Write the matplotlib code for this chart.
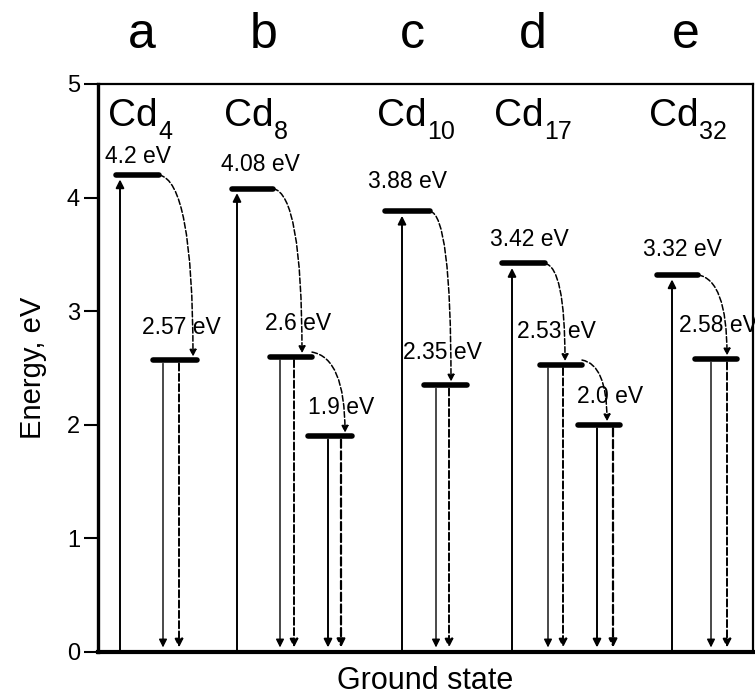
import matplotlib
matplotlib.use("Agg")
import matplotlib.pyplot as plt

plt.rcParams['font.family'] = ['Liberation Sans', 'DejaVu Sans']

# ---- data ----
panel_letters = ['a', 'b', 'c', 'd', 'e']
clusters = ['4', '8', '10', '17', '32']
upper_levels = [4.2, 4.08, 3.88, 3.42, 3.32]
middle_levels = [2.57, 2.6, 2.35, 2.53, 2.58]
lower_levels = [None, 1.9, None, 2.0, None]
upper_labels = ['4.2 eV', '4.08 eV', '3.88 eV', '3.42 eV', '3.32 eV']
middle_labels = ['2.57 eV', '2.6 eV', '2.35 eV', '2.53 eV', '2.58 eV']
lower_labels = [None, '1.9 eV', None, '2.0 eV', None]
yticks = [0, 1, 2, 3, 4, 5]

# ---- layout (x in pixel-like units from the left spine) ----
col_x = [0, 116, 269, 392, 537]          # shift of each column
up_x = [22, 23, 35, 22, 37]              # excitation arrow
upper_span = [(18, 61), (18, 59), (18, 63), (12, 55), (22, 63)]
middle_span = [(55, 99), (56, 98), (57, 100), (50, 92), (60, 102)]
lower_span = [None, (94, 138), None, (88, 130), None]
mid_down = [(65, 81), (66, 80), (69, 82), (58, 73), (76, 92)]
low_down = [None, (114, 127), None, (107, 123), None]
mid_arrow_x = [95, 88, 84, 75, 92]
low_arrow_x = [None, 131, None, 117, None]
upper_lab_x = [40, 46, 41, 39, 47]
middle_lab_x = [83, 84, 75, 66, 83]
lower_lab_x = [None, 127, None, 120, None]
label_dy = [0.16, 0.21, 0.26, 0.21, 0.22]

fig = plt.figure(figsize=(7.55, 6.99), dpi=100)
ax = fig.add_axes([98 / 755, 47 / 699, 655 / 755, 568 / 699])
ax.set_xlim(0, 655)
ax.set_ylim(0, 5)

def arrow(x0, y0, x1, y1, ls='-', lw=1.0, conn='arc3,rad=0', ms=12):
    ax.annotate('', xy=(x1, y1), xytext=(x0, y0),
                arrowprops=dict(arrowstyle='-|>', color='k', lw=lw, ls=ls,
                                shrinkA=0, shrinkB=0, mutation_scale=ms,
                                connectionstyle=conn))

def level(span, cx, e):
    ax.plot([cx + span[0], cx + span[1]], [e, e], color='k', lw=4,
            solid_capstyle='round')

curve = 'angle3,angleA=-10,angleB=90'

for i in range(5):
    cx = col_x[i]
    eu, em, el = upper_levels[i], middle_levels[i], lower_levels[i]
    # excitation from ground state
    arrow(cx + up_x[i], 0, cx + up_x[i], eu - 0.04, lw=1.4)
    level(upper_span[i], cx, eu)
    level(middle_span[i], cx, em)
    ax.text(cx + upper_lab_x[i], eu + label_dy[i], upper_labels[i],
            ha='center', va='center', fontsize=16.5)
    ax.text(cx + middle_lab_x[i], em + 0.29, middle_labels[i],
            ha='center', va='center', fontsize=16.5, clip_on=False)
    # relaxation upper -> middle
    arrow(cx + upper_span[i][1], eu, cx + mid_arrow_x[i], em + 0.03,
          ls='--', lw=1.1, conn=curve, ms=10)
    # emission to ground state
    arrow(cx + mid_down[i][0], em - 0.03, cx + mid_down[i][0], 0.04, lw=1.0)
    arrow(cx + mid_down[i][1], em - 0.03, cx + mid_down[i][1], 0.04,
          ls='--', lw=1.4)
    if el is not None:
        level(lower_span[i], cx, el)
        ax.text(cx + lower_lab_x[i], el + 0.25, lower_labels[i],
                ha='center', va='center', fontsize=16.5)
        arrow(cx + middle_span[i][1], em + 0.04, cx + low_arrow_x[i],
              el + 0.03, ls='--', lw=1.1, conn=curve, ms=10)
        arrow(cx + low_down[i][0], el - 0.03, cx + low_down[i][0], 0.04,
              lw=1.4)
        arrow(cx + low_down[i][1], el - 0.03, cx + low_down[i][1], 0.04,
              ls='--', lw=1.6)
    # cluster name with subscript, and panel letter
    cd = ax.text(cx + upper_span[i][0] - 8, 4.63, 'Cd',
                 ha='left', va='baseline', fontsize=28)
    ax.annotate(clusters[i], xy=(1, 0), xycoords=cd, xytext=(0.5, -3.5),
                textcoords='offset points', ha='left', va='baseline',
                fontsize=18)
    ax.text(cx + upper_lab_x[i] + 4, 5.32, panel_letters[i],
            ha='center', va='baseline', fontsize=36, clip_on=False)

ax.set_yticks(yticks)
ax.set_xticks([])
ax.tick_params(axis='y', direction='out', length=10, width=1.5,
               labelsize=17, pad=3)
ax.spines['left'].set_linewidth(2.4)
ax.spines['bottom'].set_linewidth(3)
ax.spines['top'].set_linewidth(1.6)
ax.spines['right'].set_linewidth(1.6)
ax.set_ylabel('Energy, eV', fontsize=21, labelpad=14)
ax.set_xlabel('Ground state', fontsize=22, labelpad=10)

fig.savefig('out.png', dpi=100)
